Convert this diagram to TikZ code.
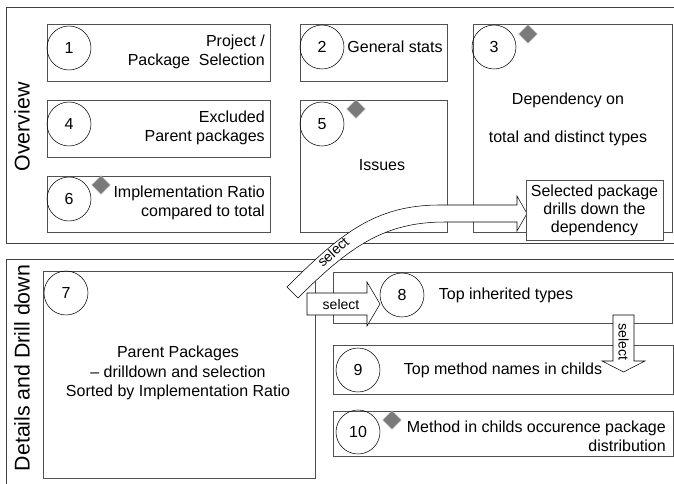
\documentclass[tikz,border=0pt]{standalone}
\usepackage{fontspec}
\setmainfont{Liberation Sans}
\usepackage{xcolor}
\definecolor{framegray}{HTML}{404040}
\definecolor{boxgray}{HTML}{505050}
\definecolor{markgray}{HTML}{7A7A7A}
\usetikzlibrary{shapes.geometric, fit}

\begin{document}
\begin{tikzpicture}[
  x=0.75pt, y=-0.75pt,
  every node/.style={font=\fontsize{12}{14.4}\selectfont},
  frame/.style={draw=framegray, line width=0.6pt},
  panel/.style={rectangle, draw=boxgray, line width=0.6pt, inner sep=0pt},
  numdisc/.style={circle, draw=black, line width=0.4pt, minimum size=33pt, inner sep=0pt},
  flag/.style={diamond, fill=markgray, draw=markgray!60!white, line width=0.4pt,
               minimum size=14pt, inner sep=0pt},
  sidelabel/.style={font=\fontsize{16}{19}\selectfont, rotate=90},
  blockarr/.style={draw=black, fill=white, line width=0.4pt, line join=miter},
  arrlabel/.style={font=\fontsize{10.5}{12}\selectfont, inner sep=0pt}
]
  \clip (0,0) rectangle (674,484);

  % section frames
  \draw[frame] (6,7) rectangle (690,243);
  \draw[frame] (6,259) rectangle (690,500);
  \node[sidelabel] (ovlabel) at (22,127) {Overview};
  \node[sidelabel] (ddlabel) at (22,368) {Details and Drill down};

  % overview panels
  \node[panel, fit={(47,24) (270,81)}] (box1) {};
  \node[panel, fit={(47,100) (270,157)}] (box4) {};
  \node[panel, fit={(47,176) (270,232)}] (box6) {};
  \node[panel, fit={(300,24) (447,81)}] (box2) {};
  \node[panel, fit={(300,100) (447,232)}] (box5) {};
  \node[panel, fit={(473,24) (672,232)}] (box3) {};

  \node[numdisc] (n1) at (69,48) {1};
  \node[numdisc] (n4) at (69,124) {4};
  \node[numdisc] (n6) at (69,199) {6};
  \node[numdisc] (n2) at (322,47) {2};
  \node[numdisc] (n5) at (322,124) {5};
  \node[numdisc] (n3) at (494,47) {3};

  \node[flag] (f6) at (101,185) {};
  \node[flag] (f5) at (356,109) {};
  \node[flag] (f3) at (528,34) {};

  \node[anchor=east, align=right, inner sep=0pt] (t1) at (265,52) {Project /\\Package\ \ Selection};
  \node[anchor=east, align=right, inner sep=0pt] (t4) at (265,128) {Excluded\\Parent packages};
  \node[anchor=east, align=right, inner sep=0pt] (t6) at (265,203) {Implementation Ratio\\compared to total};
  \node[inner sep=0pt] (t2) at (395,47) {General stats};
  \node[inner sep=0pt] (t5) at (382,165) {Issues};
  \node[align=center, inner sep=0pt] (t3) at (568,119) {Dependency on\\[14pt]total and distinct types};

  % details panels
  \node[panel, fit={(43,271) (315,478)}] (box7) {};
  \node[panel, fit={(333,272) (672,323)}] (box8) {};
  \node[panel, fit={(333,345) (673,394)}] (box9) {};
  \node[panel, fit={(333,411) (673,456)}] (box10) {};

  \node[numdisc] (n7) at (66,293) {7};
  \node[numdisc] (n8) at (402,295) {8};
  \node[numdisc] (n9) at (358,370) {9};
  \node[numdisc] (n10) at (358,432) {10};

  \node[flag] (f10) at (392,420) {};

  \node[align=center, inner sep=0pt] (t7) at (178,373) {Parent Packages\\\textendash{} drilldown and selection\\Sorted by Implementation Ratio};
  \node[inner sep=0pt] (t8) at (506,295) {Top inherited types};
  \node[inner sep=0pt] (t9) at (503,370) {Top method names in childs};
  \node[anchor=east, align=right, inner sep=0pt] (t10) at (666,436) {Method in childs occurence package\\distribution};

  % curved select arrow into the dependency view
  \draw[blockarr] (287,287) .. controls (340,234) and (375,205) .. (440,205) -- (517,205)
    -- (517,196) -- (527,213.5) -- (517,231) -- (517,222) -- (445,222)
    .. controls (385,222) and (350,246) .. (298,298) -- cycle;
  \node[arrlabel, rotate=42] (sel1) at (333,252) {select};

  % select arrow from 7 to 8
  \draw[blockarr] (307,293) -- (367,293) -- (367,282) -- (380,304) -- (367,326)
    -- (367,315) -- (307,315) -- cycle;
  \node[arrlabel] (sel2) at (341,304) {select};

  % select arrow from 8 to 9
  \draw[blockarr] (613,315) -- (634,315) -- (634,361) -- (645,361) -- (623.5,372)
    -- (602,361) -- (613,361) -- cycle;
  \node[arrlabel, rotate=-90] (sel3) at (623.5,342) {select};

  \node[panel, fill=white, align=center, inner sep=0pt, text width=132pt,
        fit={(526,180) (663,240)}] (callout) {};
  \node[align=center, inner sep=0pt, font=\fontsize{12}{13.5}\selectfont] (tcall) at (594.5,210)
    {Selected package\\drills down the\\dependency};
\end{tikzpicture}
\end{document}
